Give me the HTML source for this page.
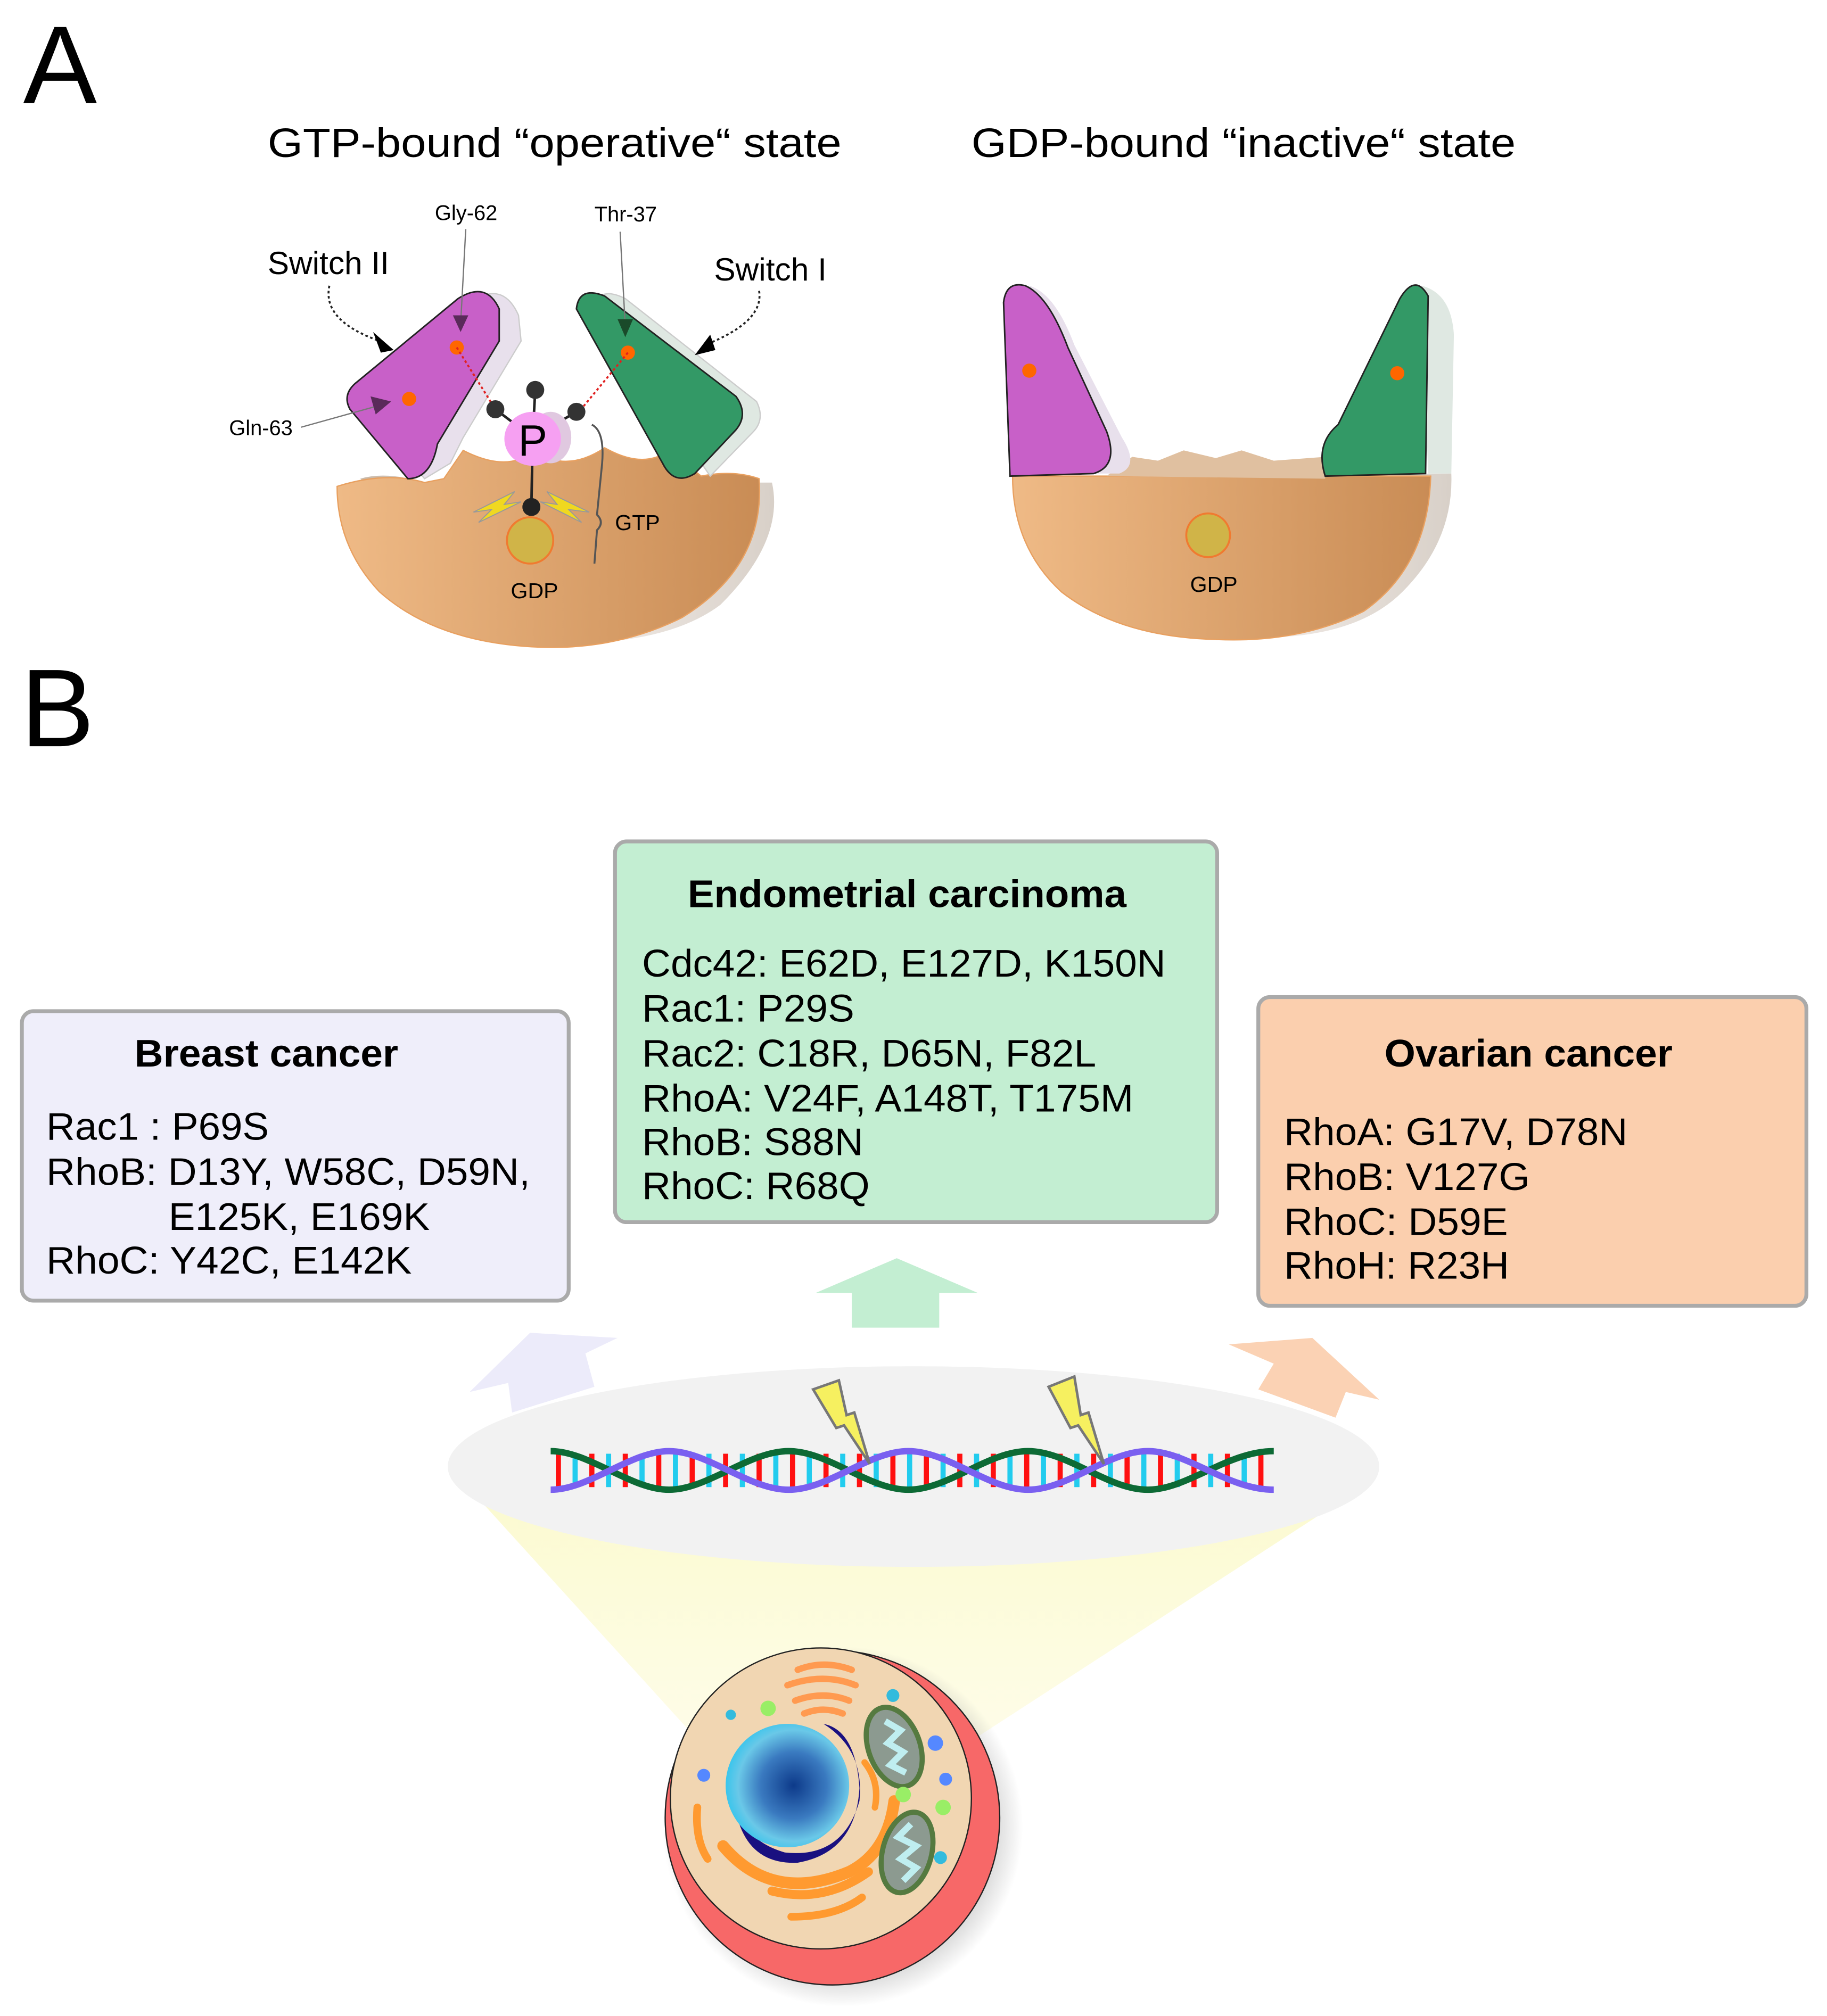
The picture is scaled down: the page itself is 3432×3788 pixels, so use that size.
<!DOCTYPE html>
<html><head><meta charset="utf-8"><style>
html,body{margin:0;padding:0;background:#fff;}
svg{display:block;}
text{font-family:"Liberation Sans",sans-serif;}
</style></head><body>
<svg width="3432" height="3788" viewBox="0 0 1420 1567" xmlns="http://www.w3.org/2000/svg">
<defs>
<linearGradient id="body" x1="0" x2="1" y1="0" y2="0"><stop offset="0" stop-color="#efba86"/><stop offset="1" stop-color="#c98c55"/></linearGradient>
<linearGradient id="shade" x1="0" x2="1"><stop offset="0" stop-color="#c8b8a8"/><stop offset="0.5" stop-color="#f4eeea"/><stop offset="1" stop-color="#d8d0c8"/></linearGradient>
<linearGradient id="cone" x1="0" x2="0" y1="0" y2="1"><stop offset="0" stop-color="#fbfad0"/><stop offset="1" stop-color="#fdfbd8" stop-opacity="0.6"/></linearGradient>
<radialGradient id="nuc" cx="0.55" cy="0.5" r="0.6"><stop offset="0" stop-color="#0d3a8a"/><stop offset="0.45" stop-color="#3a7ac0"/><stop offset="0.75" stop-color="#6ac8e8"/><stop offset="1" stop-color="#22c4ee"/></radialGradient>
<radialGradient id="cellsh" cx="0.5" cy="0.5" r="0.5"><stop offset="0.85" stop-color="#999" stop-opacity="0.35"/><stop offset="1" stop-color="#999" stop-opacity="0"/></radialGradient>
</defs>

<text x="18" y="80" font-size="86">A</text>
<text x="208" y="122" font-size="32" textLength="446" lengthAdjust="spacingAndGlyphs">GTP-bound “operative“ state</text>
<text x="755" y="122" font-size="32" textLength="423" lengthAdjust="spacingAndGlyphs">GDP-bound “inactive“ state</text>

<!-- Left protein -->
<path d="M280,372 Q300,366 330,375 L600,375 Q610,420 560,470 Q520,500 440,500 Z" fill="url(#shade)"/>
<path d="M262,378 Q300,366 330,375 L345,372 L360,350 Q395,368 415,350 Q440,368 470,348 Q500,365 520,350 L545,370 Q570,365 590,372 Q595,440 530,480 Q480,505 420,503 Q340,500 295,460 Q262,425 262,378 Z" fill="url(#body)" stroke="#e8a060" stroke-width="1"/>
<path d="M330,372 L288,322 Q283,310 292,302 L370,232 Q392,220 403,245 L405,265 L360,340 L350,360 Z" fill="#e8e0ec" stroke="#ccc" stroke-width="1"/>
<path d="M317,372 L272,318 Q266,307 276,298 L356,232 Q378,218 388,240 L388,265 L340,345 Q335,372 317,372 Z" fill="#c860c8" stroke="#222" stroke-width="1.2"/>
<path d="M462,238 Q466,222 486,232 L588,312 Q595,326 585,336 L552,370 Z" fill="#dfe8e2" stroke="#ccc" stroke-width="1"/>
<path d="M448,240 Q450,222 470,230 L572,308 Q582,322 572,334 L540,368 Q524,378 515,360 Z" fill="#339966" stroke="#222" stroke-width="1.2"/>
<circle cx="355" cy="270" r="5.5" fill="#ff6600"/>
<circle cx="318" cy="310" r="5.5" fill="#ff6600"/>
<circle cx="488" cy="274" r="5.5" fill="#ff6600"/>
<line x1="355" y1="270" x2="385" y2="318" stroke="#e02020" stroke-width="1.5" stroke-dasharray="2 2"/>
<line x1="488" y1="274" x2="450" y2="320" stroke="#e02020" stroke-width="1.5" stroke-dasharray="2 2"/>
<line x1="385" y1="318" x2="414" y2="340" stroke="#222" stroke-width="2"/>
<line x1="416" y1="303" x2="414" y2="340" stroke="#222" stroke-width="2"/>
<line x1="448" y1="320" x2="414" y2="340" stroke="#222" stroke-width="2"/>
<line x1="414" y1="340" x2="413" y2="394" stroke="#222" stroke-width="2"/>
<circle cx="385" cy="318" r="7" fill="#333"/>
<circle cx="416" cy="303" r="7" fill="#333"/>
<circle cx="448" cy="320" r="7" fill="#333"/>
<ellipse cx="428" cy="340" rx="16" ry="20" fill="#e0c8e0"/>
<ellipse cx="414" cy="341" rx="22" ry="21" fill="#f6a0f2"/>
<text x="414" y="354" font-size="34" text-anchor="middle">P</text>
<circle cx="413" cy="394" r="7" fill="#222"/>
<path d="M368,398 L400,382 L392,392 L405,390 L372,406 L382,396 Z" fill="#f0d820" stroke="#999" stroke-width="0.8"/>
<path d="M458,398 L425,382 L433,392 L420,390 L452,406 L442,396 Z" fill="#f0d820" stroke="#999" stroke-width="0.8"/>
<ellipse cx="412" cy="420" rx="18" ry="18" fill="#d0b448" stroke="#f07a30" stroke-width="1.5"/>
<path d="M460,330 Q470,335 468,360 L464,400 Q470,406 464,412 L462,438" fill="none" stroke="#555" stroke-width="1.5"/>
<text x="478" y="412" font-size="17">GTP</text>
<text x="397" y="465" font-size="17">GDP</text>
<text x="208" y="213" font-size="25">Switch II</text>
<text x="555" y="218" font-size="25">Switch I</text>
<text x="338" y="171" font-size="16.5">Gly-62</text>
<text x="462" y="172" font-size="16.5">Thr-37</text>
<text x="178" y="338" font-size="16.5">Gln-63</text>
<line x1="362" y1="178" x2="358" y2="252" stroke="#777" stroke-width="1"/>
<path d="M352,245 L364,245 L358,258 Z" fill="#5a2a5a"/>
<line x1="482" y1="180" x2="486" y2="254" stroke="#777" stroke-width="1"/>
<path d="M480,248 L492,248 L486,262 Z" fill="#1a4a2a"/>
<line x1="234" y1="332" x2="295" y2="315" stroke="#777" stroke-width="1"/>
<path d="M288,308 L304,312 L292,322 Z" fill="#5a2a5a"/>
<path d="M256,222 Q250,250 298,266" fill="none" stroke="#222" stroke-width="1.5" stroke-dasharray="2 2"/>
<path d="M290,258 L306,272 L296,274 Z" fill="#000"/>
<path d="M590,226 Q594,250 548,268" fill="none" stroke="#222" stroke-width="1.5" stroke-dasharray="2 2"/>
<path d="M540,276 L552,260 L556,272 Z" fill="#000"/>

<!-- Right protein -->
<path d="M800,370 L1128,368 Q1130,420 1090,460 Q1050,500 960,495 Z" fill="url(#shade)"/>
<path d="M787,370 L1112,370 Q1110,440 1060,475 Q1010,500 945,497 Q870,495 825,460 Q787,425 787,370 Z" fill="url(#body)" stroke="#e8a060" stroke-width="1"/>
<path d="M860,370 L880,355 L900,358 L920,350 L945,356 L965,350 L990,358 L1030,355 L1030,372 Z" fill="#e0c0a0"/>
<path d="M800,222 Q820,228 835,268 L872,340 Q886,362 870,368 L800,368 Z" fill="#e8e0ec"/>
<path d="M785,370 L780,235 Q782,218 797,222 Q815,230 830,270 L860,335 Q870,362 850,368 Z" fill="#c860c8" stroke="#222" stroke-width="1.2"/>
<path d="M1105,222 Q1128,228 1130,260 L1128,368 L1110,368 Z" fill="#dfe8e2"/>
<path d="M1030,370 Q1022,345 1040,330 L1088,232 Q1100,212 1110,230 L1108,368 Z" fill="#339966" stroke="#222" stroke-width="1.2"/>
<circle cx="800" cy="288" r="5.5" fill="#ff6600"/>
<circle cx="1086" cy="290" r="5.5" fill="#ff6600"/>
<ellipse cx="939" cy="416" rx="17" ry="17" fill="#d0b448" stroke="#f07a30" stroke-width="1.5"/>
<text x="925" y="460" font-size="17">GDP</text>

<text x="16" y="580" font-size="86">B</text>

<!-- Boxes -->
<rect x="17" y="786" width="425" height="225" rx="9" fill="#efeefa" stroke="#aaa" stroke-width="3"/>
<text x="207" y="829" font-size="30" font-weight="bold" text-anchor="middle" textLength="205" lengthAdjust="spacingAndGlyphs">Breast cancer</text>
<g font-size="30"><text x="36" y="886" textLength="173" lengthAdjust="spacingAndGlyphs">Rac1 : P69S</text><text x="36" y="921" textLength="376" lengthAdjust="spacingAndGlyphs">RhoB: D13Y, W58C, D59N,</text><text x="131" y="956" textLength="203" lengthAdjust="spacingAndGlyphs">E125K, E169K</text><text x="36" y="990" textLength="284" lengthAdjust="spacingAndGlyphs">RhoC: Y42C, E142K</text></g>

<rect x="478" y="654" width="468" height="296" rx="9" fill="#c3eed2" stroke="#aaa" stroke-width="3"/>
<text x="705" y="705" font-size="30" font-weight="bold" text-anchor="middle" textLength="341" lengthAdjust="spacingAndGlyphs">Endometrial carcinoma</text>
<g font-size="30"><text x="499" y="759" textLength="407" lengthAdjust="spacingAndGlyphs">Cdc42: E62D, E127D, K150N</text><text x="499" y="794" textLength="165" lengthAdjust="spacingAndGlyphs">Rac1: P29S</text><text x="499" y="829" textLength="353" lengthAdjust="spacingAndGlyphs">Rac2: C18R, D65N, F82L</text><text x="499" y="864" textLength="382" lengthAdjust="spacingAndGlyphs">RhoA: V24F, A148T, T175M</text><text x="499" y="898" textLength="172" lengthAdjust="spacingAndGlyphs">RhoB: S88N</text><text x="499" y="932" textLength="177" lengthAdjust="spacingAndGlyphs">RhoC: R68Q</text></g>

<rect x="978" y="775" width="426" height="240" rx="9" fill="#fbcfae" stroke="#aaa" stroke-width="3"/>
<text x="1188" y="829" font-size="30" font-weight="bold" text-anchor="middle" textLength="224" lengthAdjust="spacingAndGlyphs">Ovarian cancer</text>
<g font-size="30"><text x="998" y="890" textLength="267" lengthAdjust="spacingAndGlyphs">RhoA: G17V, D78N</text><text x="998" y="925" textLength="191" lengthAdjust="spacingAndGlyphs">RhoB: V127G</text><text x="998" y="960" textLength="174" lengthAdjust="spacingAndGlyphs">RhoC: D59E</text><text x="998" y="994" textLength="175" lengthAdjust="spacingAndGlyphs">RhoH: R23H</text></g>

<!-- arrows -->
<path d="M697,978 L760,1005 L730,1005 L730,1032 L662,1032 L662,1005 L634,1005 Z" fill="#c3eed2"/>
<path d="M365,1082 L412,1036 L480,1040 L455,1052 L462,1078 L398,1098 L395,1075 Z" fill="#ecebfa"/>
<path d="M955,1045 L1020,1040 L1072,1088 L1046,1082 L1038,1102 L978,1080 L990,1060 Z" fill="#fbd2b4"/>

<path d="M372,1165 L1045,1165 L760,1350 L540,1350 Z" fill="url(#cone)"/>
<ellipse cx="710" cy="1140" rx="362" ry="78" fill="#f2f2f2"/>

<!-- DNA rungs -->
<line x1="432" y1="1143" x2="988" y2="1143" stroke="#ff1010" stroke-width="26" stroke-dasharray="4 22"/>
<line x1="445" y1="1143" x2="988" y2="1143" stroke="#22ccee" stroke-width="26" stroke-dasharray="4 22"/>
<path d="M428,1128 C458,1128 490,1158 520,1158 S582,1128 613,1128 S675,1158 706,1158 S768,1128 799,1128 S861,1158 892,1158 S954,1128 990,1128" fill="none" stroke="#0d6a35" stroke-width="5"/>
<path d="M428,1158 C458,1158 490,1128 520,1128 S582,1158 613,1158 S675,1128 706,1128 S768,1158 799,1158 S861,1128 892,1128 S954,1158 990,1158" fill="none" stroke="#7a60f0" stroke-width="5"/>
<path d="M632,1080 L652,1073 L658,1100 L664,1098 L676,1138 L656,1108 L650,1110 Z" fill="#f6f060" stroke="#777" stroke-width="2"/>
<path d="M815,1078 L835,1070 L840,1100 L846,1098 L858,1138 L838,1108 L832,1110 Z" fill="#f6f060" stroke="#777" stroke-width="2"/>

<!-- cell -->
<circle cx="655" cy="1420" r="140" fill="url(#cellsh)"/>
<circle cx="647" cy="1413" r="130" fill="#f76868" stroke="#222" stroke-width="1"/>
<circle cx="638" cy="1398" r="117" fill="#f1d6b2" stroke="#222" stroke-width="1"/>
<path d="M570,1395 Q575,1450 620,1448 Q665,1440 668,1390 Q665,1345 640,1340 Q672,1360 668,1400 Q655,1445 610,1440 Q575,1430 570,1395 Z" fill="#1a1080"/>
<circle cx="612" cy="1388" r="48" fill="url(#nuc)"/>
<path d="M562,1435 Q600,1480 660,1455 Q690,1440 695,1400" fill="none" stroke="#ff9a30" stroke-width="9" stroke-linecap="round"/>
<path d="M600,1470 Q640,1480 675,1455" fill="none" stroke="#ff9a30" stroke-width="7" stroke-linecap="round"/>
<path d="M615,1490 Q650,1490 670,1475" fill="none" stroke="#ff9a30" stroke-width="6" stroke-linecap="round"/>
<path d="M542,1405 Q540,1430 550,1445" fill="none" stroke="#ff9a30" stroke-width="6" stroke-linecap="round"/>
<path d="M672,1370 Q684,1385 680,1405" fill="none" stroke="#ff9a30" stroke-width="5" stroke-linecap="round"/>
<path d="M620,1298 Q640,1290 662,1298 M612,1310 Q640,1300 665,1310 M618,1322 Q640,1314 660,1322 M625,1332 Q640,1326 655,1332" fill="none" stroke="#ff9a50" stroke-width="5" stroke-linecap="round"/>
<ellipse cx="695" cy="1358" rx="20" ry="32" transform="rotate(-20 695 1358)" fill="#8c9a90" stroke="#557a40" stroke-width="4"/>
<path d="M688,1338 L700,1345 L690,1355 L702,1362 L692,1372 L704,1378" fill="none" stroke="#bfeef0" stroke-width="5"/>
<ellipse cx="705" cy="1440" rx="19" ry="32" transform="rotate(15 705 1440)" fill="#8c9a90" stroke="#557a40" stroke-width="4"/>
<path d="M708,1418 L698,1428 L712,1435 L700,1445 L712,1452 L702,1462" fill="none" stroke="#bfeef0" stroke-width="5"/>
<circle cx="694" cy="1318" r="5" fill="#33bbdd"/><circle cx="597" cy="1328" r="6" fill="#99ee66"/><circle cx="568" cy="1333" r="4" fill="#33bbdd"/>
<circle cx="727" cy="1355" r="6" fill="#5588ff"/><circle cx="735" cy="1383" r="5" fill="#5588ff"/><circle cx="702" cy="1395" r="6" fill="#99ee66"/>
<circle cx="733" cy="1405" r="6" fill="#99ee66"/><circle cx="731" cy="1444" r="5" fill="#33bbdd"/><circle cx="547" cy="1380" r="5" fill="#5588ff"/>
</svg>
</body></html>
